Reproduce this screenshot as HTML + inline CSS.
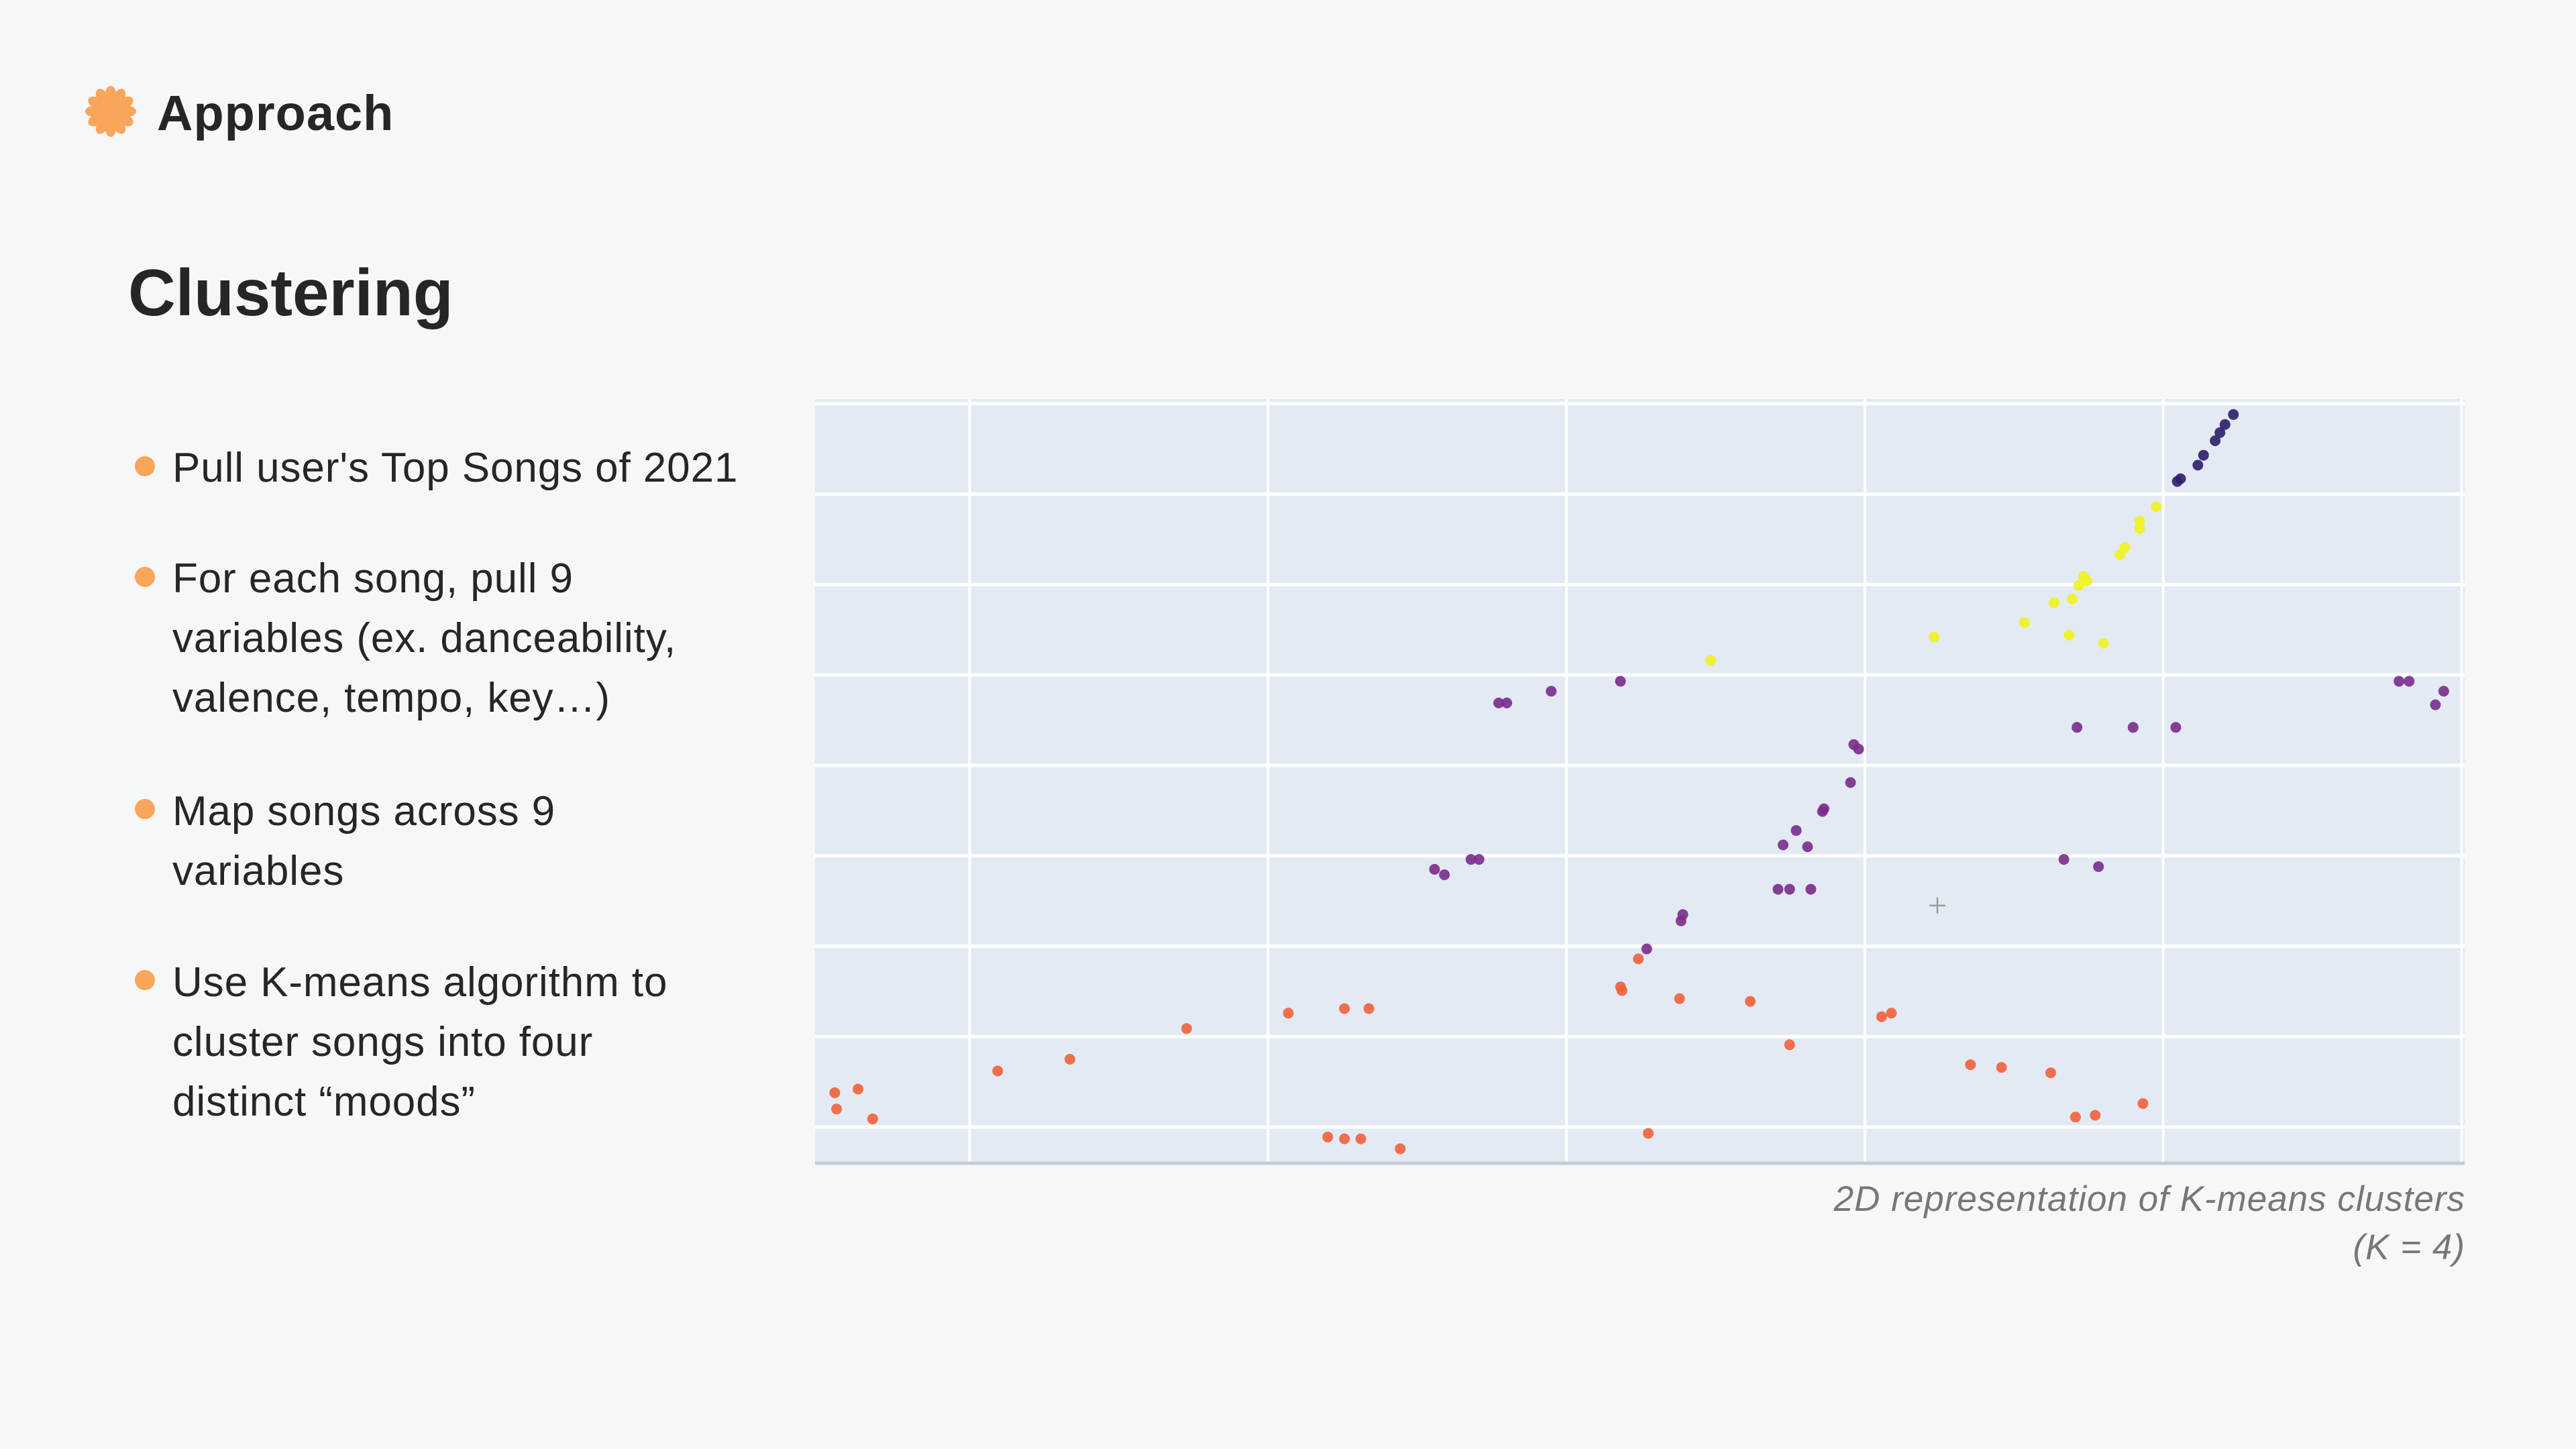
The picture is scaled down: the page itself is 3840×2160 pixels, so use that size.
<!DOCTYPE html>
<html><head><meta charset="utf-8"><style>
html,body{margin:0;padding:0}
body{width:3840px;height:2160px;background:#f6f7f9;position:relative;overflow:hidden;font-family:"Liberation Sans",sans-serif;color:#262626}
.t{position:absolute;white-space:nowrap}
.b{position:absolute;font-size:62px;letter-spacing:0.9px;line-height:89px;left:257px;white-space:nowrap;color:#262626}
.dot{position:absolute;width:30px;height:30px;border-radius:50%;background:#f9a55a;left:201px}
.cap{position:absolute;right:165px;font-size:53px;letter-spacing:1px;font-style:italic;color:#777;text-align:right;white-space:nowrap}
</style></head><body>
<svg style="position:absolute;left:125px;top:126px" width="80" height="80" viewBox="-40 -40 80 80">
<g fill="#f9a55a"><circle r="24"/>
<g id="p"><ellipse cx="0" cy="-26" rx="8" ry="12"/></g>
<use href="#p" transform="rotate(30)"/><use href="#p" transform="rotate(60)"/><use href="#p" transform="rotate(90)"/><use href="#p" transform="rotate(120)"/><use href="#p" transform="rotate(150)"/><use href="#p" transform="rotate(180)"/><use href="#p" transform="rotate(210)"/><use href="#p" transform="rotate(240)"/><use href="#p" transform="rotate(270)"/><use href="#p" transform="rotate(300)"/><use href="#p" transform="rotate(330)"/></g></svg>
<div class="t" style="left:234px;top:122px;font-size:74px;font-weight:bold;line-height:94px;letter-spacing:1px">Approach</div>
<div class="t" style="left:191px;top:376px;font-size:98px;font-weight:bold;line-height:120px">Clustering</div>

<div class="dot" style="top:680px"></div>
<div class="b" style="top:653px">Pull user's Top Songs of 2021</div>
<div class="dot" style="top:845px"></div>
<div class="b" style="top:818px">For each song, pull 9<br>variables (ex. danceability,<br>valence, tempo, key…)</div>
<div class="dot" style="top:1191px"></div>
<div class="b" style="top:1165px">Map songs across 9<br>variables</div>
<div class="dot" style="top:1446px"></div>
<div class="b" style="top:1420px">Use K-means algorithm to<br>cluster songs into four<br>distinct “moods”</div>

<svg id="chart" style="position:absolute;left:0;top:0" width="3840" height="2160"></svg>

<div class="cap" style="top:1752px;line-height:72px">2D representation of K-means clusters<br>(K = 4)</div>

<script>
const xTicks=[0,1,2,3,4,5];
const yTicks=[0,1,2,3,4,5,6,7,8];
const navyX=[4.235,4.207,4.19,4.174,4.135,4.116,4.058,4.047];
const navyY=[7.88,7.77,7.68,7.59,7.43,7.32,7.17,7.14];
const yellowX=[3.976,3.921,3.921,3.871,3.855,3.733,3.717,3.744,3.695,3.634,3.684,3.535,3.8,3.232,2.483];
const yellowY=[6.86,6.70,6.62,6.41,6.33,6.09,5.99,6.04,5.84,5.80,5.44,5.58,5.35,5.42,5.16];
const purpleX=[1.773,1.80,1.949,2.181,4.79,4.824,4.94,4.912,3.711,3.899,4.042,2.963,2.979,2.952,2.863,2.858,2.77,2.726,2.808,1.558,1.591,1.68,1.707,3.667,3.783,2.709,2.748,2.819,2.39,2.384,2.269];
const purpleY=[4.69,4.69,4.82,4.93,4.93,4.93,4.82,4.67,4.42,4.42,4.42,4.23,4.18,3.81,3.52,3.49,3.28,3.12,3.10,2.85,2.79,2.96,2.96,2.96,2.88,2.63,2.63,2.63,2.35,2.28,1.97];
const orangeX=[2.241,2.181,2.186,2.379,2.616,1.256,1.338,1.068,3.056,3.089,0.727,2.748,0.336,0.094,3.354,3.458,3.623,-0.452,-0.374,-0.446,-0.325,3.932,3.706,3.772,2.274,1.2,1.256,1.311,1.443];
const orangeY=[1.86,1.55,1.51,1.42,1.39,1.31,1.31,1.26,1.22,1.26,1.09,0.91,0.75,0.62,0.69,0.66,0.60,0.38,0.42,0.20,0.09,0.26,0.11,0.13,-0.07,-0.11,-0.13,-0.13,-0.24];
const centroidX=[3.243];
const centroidY=[2.45];

const L=1215,R=3674,T=595,B=1734;
const xMin=-0.518,xMax=5.01,yMin=-0.4,yMax=8.05;
function sx(v){return L+(v-xMin)/(xMax-xMin)*(R-L);}
function sy(v){return B-(v-yMin)/(yMax-yMin)*(B-T);}
const NS="http://www.w3.org/2000/svg";
const svg=document.getElementById('chart');
function mk(tag,attrs){const e=document.createElementNS(NS,tag);for(const k in attrs)e.setAttribute(k,attrs[k]);svg.appendChild(e);return e;}
const bg=mk('rect',{x:L,y:T,width:R-L,height:B-T,fill:'#e3eaf3'});


xTicks.forEach(v=>{const g=mk('line',{x1:sx(v),x2:sx(v),y1:T,y2:B,stroke:'#ffffff','stroke-width':4});

});
yTicks.forEach(v=>{const g=mk('line',{x1:L,x2:R,y1:sy(v),y2:sy(v),stroke:'#ffffff','stroke-width':5});

});
const ax=mk('line',{x1:L,x2:R,y1:B,y2:B,stroke:'#c3ccd8','stroke-width':5});


function series(xs,ys,color,name){xs.forEach((x,i)=>{const c=mk('circle',{cx:sx(x),cy:sy(ys[i]),r:8,fill:color,'fill-opacity':0.9});

});}
series(orangeX,orangeY,'#f2603a','point-cluster-orange');
series(purpleX,purpleY,'#7a2b8b','point-cluster-purple');
series(yellowX,yellowY,'#eef31d','point-cluster-yellow');
series(navyX,navyY,'#2d1e6b','point-cluster-navy');
centroidX.forEach((x,i)=>{const cx=sx(x),cy=sy(centroidY[i]);
const a=mk('path',{d:`M${cx-12} ${cy}H${cx+12}M${cx} ${cy-12}V${cy+12}`,stroke:'#999','stroke-width':2.5,fill:'none'});

});
</script>
</body></html>
